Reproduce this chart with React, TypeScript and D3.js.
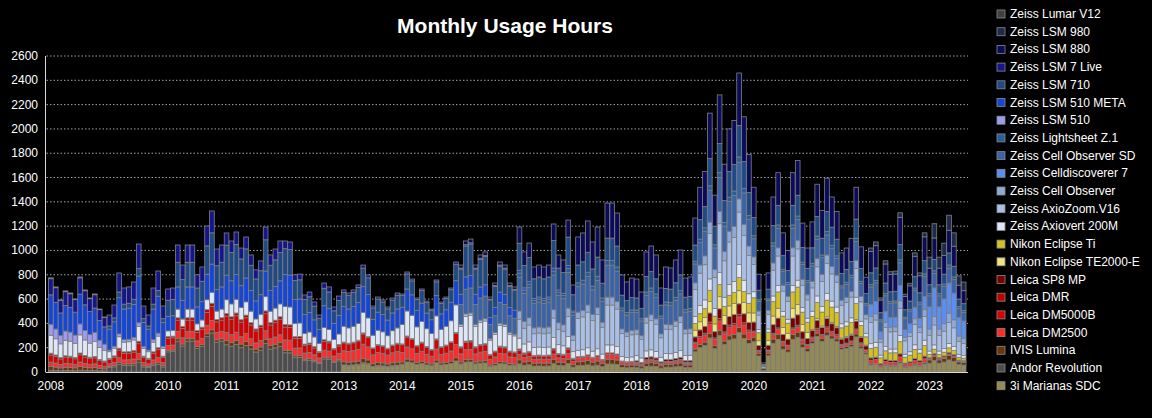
import React from "react";
import * as d3 from "d3";

const totals: number[] = [
  775,700,593,667,650,601,782,675,609,642,518,453,
  469,551,815,691,700,741,1053,543,469,691,831,543,
  683,691,1045,880,1045,1045,800,864,1201,1325,1012,1045,
  1144,1078,1152,1020,1111,963,840,914,1193,963,1012,1078,
  1078,1070,800,806,634,658,576,469,732,700,535,625,
  675,650,675,716,880,798,543,617,593,535,609,650,
  642,823,765,609,683,584,518,757,576,617,691,905,
  880,1078,1094,880,963,988,617,732,905,880,732,700,
  1193,988,1061,864,880,864,880,1218,963,922,1250,716,
  1111,1144,1243,1070,1193,922,1390,1390,1308,798,741,773,
  765,658,988,1037,963,691,864,856,922,1004,773,782,
  1267,1520,1650,2130,1455,2280,1710,2000,2070,2460,2100,1790,
  1520,805,75,815,1440,1640,1145,1000,1640,1740,1225,1020,
  1235,1545,1330,1595,1440,1320,980,1020,1100,1520,1030,780,
  1020,1070,610,915,825,830,1310,640,730,980,815,1145,
  945,1220,945,1060,1290,1145,790,740,
];

const years = d3.range(2008, 2024);
// series in stacking order (bottom first), with yearly shares 2008..2023
const seriesNames = [
  "3i Marianas SDC","Andor Revolution","IVIS Lumina","Leica DM2500","Leica DM5000B","Leica DMR","Leica SP8 MP",
  "Nikon Eclipse TE2000-E","Nikon Eclipse Ti","Zeiss Axiovert 200M","Zeiss AxioZoom.V16","Zeiss Cell Observer",
  "Zeiss Celldiscoverer 7","Zeiss Cell Observer SD","Zeiss Lightsheet Z.1","Zeiss LSM 510","Zeiss LSM 510 META",
  "Zeiss LSM 710","Zeiss LSM 7 Live","Zeiss LSM 880","Zeiss LSM 980","Zeiss Lumar V12",
];
const seriesColors = [
  "#948a55","#4d4d4d","#6b3508","#ff2a2a","#d80000","#c00000","#7a0000",
  "#f2e47a","#d4c01e","#dfe7f7","#a9bfe6","#8ea8d8",
  "#5b8ef2","#3a63a8","#245e9c","#9b9bf0","#1546d6",
  "#1f4a86","#15168c","#0b0b5a","#1d2b4b","#404040",
];
const shares: number[][] = [
  [0,0,0,0,0,8,10,8,6,5,5,15,20,22,6,8],
  [2,8,25,20,15,1,0,0,0,0,0,0,0,0,0,0],
  [4,2,2,3,2,4,3,2,3,3,3,2,3,2,1,3],
  [5,5,6,6,8,14,12,8,4,3,2,4,3,2,3,1],
  [8,8,9,12,10,10,10,6,3,1,1,1,1,1,0,0],
  [2,2,2,2,2,1,1,1,1,0,0,0,0,0,0,0],
  [0,0,0,0,0,0,0,0,0,0,2,4,6,5,2,1],
  [0,0,0,0,0,0,0,0,0,0,0,5,6,1,0,0],
  [0,0,0,0,0,0,0,0,0,0,0,5,10,10,8,3],
  [20,12,7,10,14,20,25,20,8,5,6,5,4,4,4,3],
  [0,0,0,0,0,0,0,2,14,25,25,20,18,18,18,14],
  [0,0,0,0,0,0,0,0,6,5,5,5,5,5,5,6],
  [0,0,0,0,0,0,0,0,0,0,0,0,0,0,10,20],
  [0,0,0,0,0,0,0,20,25,20,20,14,12,12,15,10],
  [0,0,0,0,0,0,0,0,3,3,3,2,2,2,2,2],
  [12,3,0,0,0,0,0,0,0,0,0,0,0,0,0,0],
  [33,38,18,18,25,25,22,10,2,0,0,0,0,0,0,0],
  [0,6,20,22,20,18,15,25,20,14,14,12,12,12,10,8],
  [18,20,14,9,6,3,2,1,0,0,0,0,0,0,0,0],
  [0,0,0,0,0,0,0,3,12,22,22,20,20,20,18,15],
  [0,0,0,0,0,0,0,0,0,0,0,0,0,0,3,10],
  [1,0,0,0,0,0,0,0,0,0,0,0,0,0,0,0],
];
const yTicks = d3.range(0, 2601, 200);

export default function App() {
  const W = 1152, H = 418;
  const x0 = 48.5, x1 = 966, yBase = 372, yTop = 56;
  const x = d3.scaleBand<number>().domain(d3.range(totals.length)).range([x0, x1]).paddingInner(0.04);
  const y = d3.scaleLinear().domain([0, 2600]).range([yBase, yTop]);
  const rows = totals.map((t, i) => {
    const yi = Math.floor(i / 12);
    const sum = d3.sum(shares, (s) => s[yi]);
    const r: any = { i };
    seriesNames.forEach((n, k) => (r[n] = (t * shares[k][yi]) / sum));
    return r;
  });
  const stack = d3.stack<any>().keys(seriesNames)(rows);
  const font = "'Liberation Sans', Arial, sans-serif";
  const legendNames = [...seriesNames].reverse();
  const legendColors = [...seriesColors].reverse();
  return (
    <svg width={W} height={H} style={{ position: "absolute", left: 0, top: 0, background: "#000" }} fontFamily={font}>
      <rect width={W} height={H} fill="#000" />
      <text x={505} y={33} fill="#fff" fontSize={21} fontWeight="bold" textAnchor="middle">Monthly Usage Hours</text>
      {yTicks.map((t) => (
        <g key={t}>
          {t > 0 && <line x1={x0 - 2} x2={x1 + 2} y1={y(t)} y2={y(t)} stroke="#cfcfcf" strokeDasharray="1.5,2" strokeWidth={0.8} />}
          <text x={38} y={y(t) + 4} fill="#fff" fontSize={12} textAnchor="end">{t}</text>
        </g>
      ))}
      {stack.map((layer, k) => (
        <g key={k} fill={seriesColors[k]} stroke="#808080" strokeWidth={0.8}>
          {layer.map((d, i) => (d[1] - d[0] > 4 ? (
            <rect key={i} x={x(i)!} width={x.bandwidth()} y={y(d[1])} height={y(d[0]) - y(d[1])} />
          ) : null))}
        </g>
      ))}
      <line x1={x0 - 3} x2={x0 - 3} y1={yTop} y2={yBase} stroke="#d9d9d9" strokeWidth={1} />
      <line x1={x0 - 3} x2={x1 + 2} y1={yBase + 0.5} y2={yBase + 0.5} stroke="#d9d9d9" strokeWidth={1} />
      {years.map((yr, j) => (
        <text key={yr} x={x(j * 12)! + x.bandwidth() / 2} y={390} fill="#fff" fontSize={12} textAnchor="middle">{yr}</text>
      ))}
      {legendNames.map((n, k) => (
        <g key={n} transform={`translate(997, ${14 + k * 17.7})`}>
          <rect x={0} y={-4} width={8} height={8} fill={legendColors[k]} stroke="#8a8a8a" strokeWidth={0.8} />
          <text x={13} y={4} fill="#fff" fontSize={12}>{n}</text>
        </g>
      ))}
    </svg>
  );
}
